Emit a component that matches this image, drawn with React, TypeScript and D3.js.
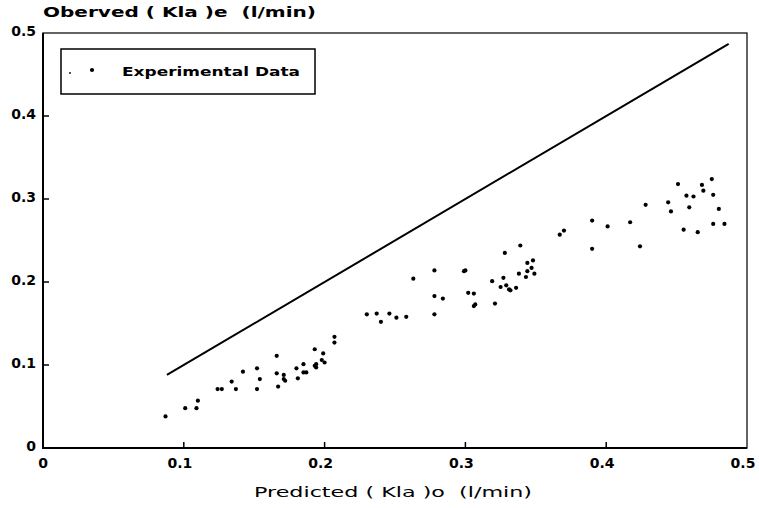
import { useEffect, useRef } from "react";
import * as d3 from "d3";

// predicted (Kla)o values
const predicted = [
  0.087, 0.101, 0.109, 0.110, 0.124, 0.127, 0.134, 0.137, 0.142, 0.152,
  0.154, 0.152, 0.166, 0.166, 0.171, 0.171, 0.172, 0.167, 0.180, 0.181,
  0.185, 0.185, 0.187, 0.193, 0.194, 0.194, 0.199, 0.198, 0.200, 0.193,
  0.207, 0.207, 0.230, 0.237, 0.240, 0.246, 0.251, 0.258, 0.263, 0.278,
  0.278, 0.284, 0.278, 0.299, 0.300, 0.328, 0.339, 0.319, 0.327, 0.325,
  0.329, 0.331, 0.332, 0.336, 0.338, 0.343, 0.344, 0.347, 0.349, 0.344,
  0.348, 0.302, 0.306, 0.306, 0.307, 0.321, 0.367, 0.370, 0.390, 0.390,
  0.401, 0.417, 0.424, 0.428, 0.444, 0.446, 0.451, 0.457, 0.462, 0.459,
  0.455, 0.465, 0.468, 0.469, 0.475, 0.476, 0.480, 0.476, 0.484,
];

// observed (Kla)e values
const observed = [
  0.038, 0.048, 0.048, 0.057, 0.071, 0.071, 0.080, 0.071, 0.092, 0.096,
  0.083, 0.071, 0.111, 0.090, 0.088, 0.083, 0.081, 0.074, 0.096, 0.084,
  0.101, 0.091, 0.091, 0.099, 0.101, 0.097, 0.114, 0.106, 0.103, 0.119,
  0.134, 0.127, 0.161, 0.162, 0.152, 0.162, 0.157, 0.158, 0.204, 0.214,
  0.183, 0.180, 0.161, 0.213, 0.214, 0.235, 0.244, 0.201, 0.205, 0.194,
  0.196, 0.191, 0.190, 0.193, 0.210, 0.206, 0.213, 0.217, 0.210, 0.223,
  0.226, 0.187, 0.186, 0.171, 0.173, 0.174, 0.257, 0.262, 0.274, 0.240,
  0.267, 0.272, 0.243, 0.293, 0.296, 0.285, 0.318, 0.304, 0.303, 0.290,
  0.263, 0.260, 0.317, 0.310, 0.324, 0.305, 0.288, 0.270, 0.270,
];

// the model line (predicted == observed)
const lineX = [0.088, 0.487];

const xTicks = [0, 0.1, 0.2, 0.3, 0.4, 0.5];
const yTicks = [0, 0.1, 0.2, 0.3, 0.4, 0.5];
const tickLabels = ["0", "0.1", "0.2", "0.3", "0.4", "0.5"];

export default function App() {
  const svgRef = useRef<SVGSVGElement>(null);
  const width = 759;
  const height = 508;

  useEffect(() => {
    drawChart();
  }, []);

  function drawChart() {
    const x = d3.scaleLinear().domain([0, 0.5]).range([43, 747]);
    const y = d3.scaleLinear().domain([0, 0.5]).range([448, 33]);
    const font = "'DejaVu Sans', sans-serif";

    const svg = d3
      .select(svgRef.current)
      .attr("width", width)
      .attr("height", height);

    svg.selectAll("*").remove();

    svg.append("rect").attr("width", width).attr("height", height).attr("fill", "white");

    // frame
    svg
      .append("rect")
      .attr("x", x(0))
      .attr("y", y(0.5))
      .attr("width", x(0.5) - x(0))
      .attr("height", y(0) - y(0.5))
      .attr("fill", "none")
      .attr("stroke", "#111")
      .attr("stroke-width", 1.3);

    svg
      .append("path")
      .attr("d", `M${x(0)},${y(0.5)}V${y(0)}H${x(0.5)}`)
      .attr("fill", "none")
      .attr("stroke", "#000")
      .attr("stroke-width", 2);

    // ticks, pointing inward
    svg
      .append("g")
      .selectAll("line")
      .data(xTicks.slice(1, -1))
      .join("line")
      .attr("x1", (d) => x(d))
      .attr("x2", (d) => x(d))
      .attr("y1", y(0))
      .attr("y2", y(0) - 6)
      .attr("stroke", "#000")
      .attr("stroke-width", 1.5);

    svg
      .append("g")
      .selectAll("line")
      .data(yTicks.slice(1, -1))
      .join("line")
      .attr("x1", x(0))
      .attr("x2", x(0) + 6)
      .attr("y1", (d) => y(d))
      .attr("y2", (d) => y(d))
      .attr("stroke", "#000")
      .attr("stroke-width", 1.5);

    // tick labels
    svg
      .append("g")
      .selectAll("text")
      .data(xTicks)
      .join("text")
      .attr("x", (d, i) => (i === 0 ? x(d) : x(d) - 4))
      .attr("y", 468)
      .attr("text-anchor", "middle")
      .attr("font-family", font)
      .attr("font-weight", "bold")
      .attr("font-size", 14)
      .text((d, i) => tickLabels[i]);

    svg
      .append("g")
      .selectAll("text")
      .data(yTicks)
      .join("text")
      .attr("x", 36)
      .attr("y", (d) => y(d) + 3)
      .attr("text-anchor", "end")
      .attr("font-family", font)
      .attr("font-weight", "bold")
      .attr("font-size", 14)
      .text((d, i) => tickLabels[i]);

    // axis titles
    svg
      .append("text")
      .attr("x", 43)
      .attr("y", 17)
      .attr("font-family", font)
      .attr("font-weight", "bold")
      .attr("font-size", 14)
      .attr("textLength", 273)
      .attr("lengthAdjust", "spacingAndGlyphs")
      .attr("xml:space", "preserve")
      .text("Oberved ( Kla )e  (l/min)");

    svg
      .append("text")
      .attr("x", 254)
      .attr("y", 497)
      .attr("font-family", font)
      .attr("font-size", 14)
      .attr("textLength", 278)
      .attr("lengthAdjust", "spacingAndGlyphs")
      .attr("xml:space", "preserve")
      .text("Predicted ( Kla )o  (l/min)");

    // model line
    svg
      .append("path")
      .datum(lineX)
      .attr(
        "d",
        d3
          .line<number>()
          .x((d) => x(d))
          .y((d) => y(d))
      )
      .attr("fill", "none")
      .attr("stroke", "#000")
      .attr("stroke-width", 2);

    // experimental points
    svg
      .append("g")
      .selectAll("circle")
      .data(predicted)
      .join("circle")
      .attr("cx", (d) => x(d))
      .attr("cy", (d, i) => y(observed[i]))
      .attr("r", 2.1)
      .attr("fill", "#000");

    // legend
    const legend = svg.append("g");
    legend
      .append("rect")
      .attr("x", 61)
      .attr("y", 49)
      .attr("width", 254)
      .attr("height", 45)
      .attr("fill", "white")
      .attr("stroke", "#000")
      .attr("stroke-width", 1.5);
    legend.append("circle").attr("cx", 70).attr("cy", 73).attr("r", 0.9).attr("fill", "#000");
    legend.append("circle").attr("cx", 92).attr("cy", 70).attr("r", 2.1).attr("fill", "#000");
    legend
      .append("text")
      .attr("x", 122)
      .attr("y", 76)
      .attr("font-family", font)
      .attr("font-weight", "bold")
      .attr("font-size", 13)
      .attr("textLength", 178)
      .attr("lengthAdjust", "spacingAndGlyphs")
      .text("Experimental Data");
  }

  return (
    <div style={{ position: "absolute", left: 0, top: 0 }}>
      <svg ref={svgRef} style={{ display: "block" }}></svg>
    </div>
  );
}
